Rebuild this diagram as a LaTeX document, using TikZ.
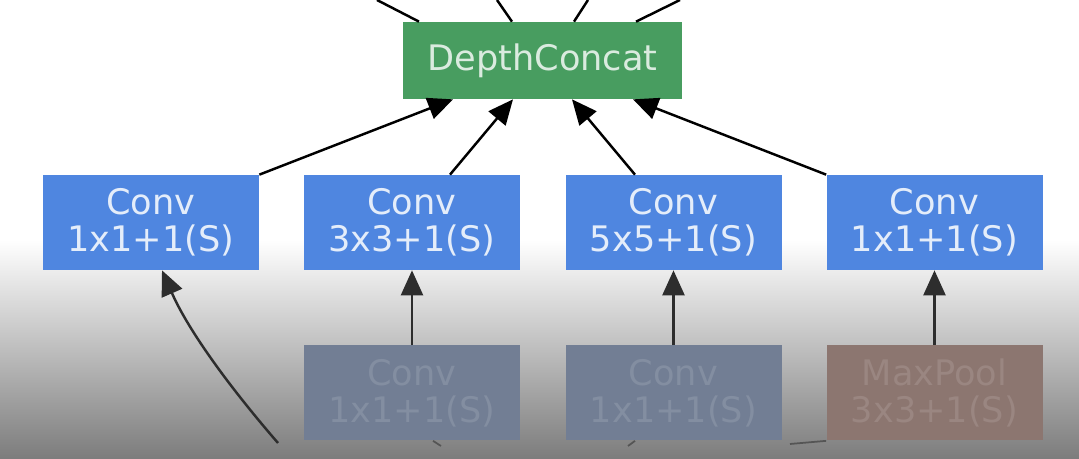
\documentclass[tikz,border=0pt]{standalone}
\usepackage{fontspec}
\setmainfont{DejaVu Sans}
\usetikzlibrary{arrows.meta}
\definecolor{concatgreen}{RGB}{72,157,96}
\definecolor{convblue}{RGB}{79,134,224}
\definecolor{fadeblue}{RGB}{114,126,148}
\definecolor{fadered}{RGB}{140,118,112}
\definecolor{bgmid}{RGB}{146,146,146}
\definecolor{bgbot}{RGB}{124,124,124}
\definecolor{lowgray}{RGB}{45,45,45}
\definecolor{stubgray}{RGB}{85,85,85}
\tikzset{
  layer/.style={shape=rectangle, minimum width=4.32cm, minimum height=1.9cm, inner sep=0pt, align=center, font=\fontsize{20}{21}\selectfont},
  conv/.style={layer, fill=convblue, text=white!85!convblue},
  faded/.style={layer, fill=fadeblue, text=white!12!fadeblue},
  flow/.style={-{Triangle[length=5mm,width=4.4mm]}, line width=1.4pt, draw=black},
}
\begin{document}
\begin{tikzpicture}
\useasboundingbox (0,0) rectangle (21.58,9.18);
\fill[white] (0,4.38) rectangle (21.58,9.18);
\shade[top color=white, middle color=bgmid, bottom color=bgbot] (0,0) rectangle (21.58,4.38);
\node[shape=rectangle, fill=concatgreen, minimum width=5.58cm, minimum height=1.54cm, text=white!80!concatgreen, font=\fontsize{20}{21}\selectfont] (dc) at (10.85,7.97) {DepthConcat};
\node[conv] (c1) at (3.02,4.73) {Conv\\1x1+1(S)};
\node[conv] (c2) at (8.24,4.73) {Conv\\3x3+1(S)};
\node[conv] (c3) at (13.47,4.73) {Conv\\5x5+1(S)};
\node[conv] (c4) at (18.69,4.73) {Conv\\1x1+1(S)};
\node[faded] (f2) at (8.24,1.32) {Conv\\1x1+1(S)};
\node[faded] (f3) at (13.47,1.32) {Conv\\1x1+1(S)};
\node[faded, fill=fadered, text=white!12!fadered] (mp) at (18.69,1.32) {MaxPool\\3x3+1(S)};
\coordinate (t1) at (7.54,9.18);
\coordinate (t2) at (9.94,9.18);
\coordinate (t3) at (11.76,9.18);
\coordinate (t4) at (13.60,9.18);
\coordinate (in1) at (5.56,0.32);
\coordinate (s2) at (8.82,0.26);
\coordinate (s3) at (12.56,0.26);
\coordinate (s4) at (15.80,0.30);
\draw [line width=1.4pt] ([xshift=-2.47cm]dc.north) -- (t1);
\draw [line width=1.4pt] ([xshift=-0.61cm]dc.north) -- (t2);
\draw [line width=1.4pt] ([xshift=0.63cm]dc.north) -- (t3);
\draw [line width=1.4pt] ([xshift=1.87cm]dc.north) -- (t4);
\draw [flow] (c1.north east) -- ([xshift=-1.79cm]dc.south);
\draw [flow] ([xshift=0.76cm]c2.north) -- ([xshift=-0.59cm]dc.south);
\draw [flow] ([xshift=-0.77cm]c3.north) -- ([xshift=0.59cm]dc.south);
\draw [flow] (c4.north west) -- ([xshift=1.81cm]dc.south);
\draw [flow, draw=lowgray] (f2) -- (c2);
\draw [flow, draw=lowgray] (f3) -- (c3);
\draw [flow, draw=lowgray] (mp) -- (c4);
\draw [flow, draw=lowgray] (in1) .. controls (4.64,1.38) and (3.78,2.54) .. ([xshift=0.22cm]c1.south);
\draw [line width=1pt, draw=stubgray] ([xshift=0.42cm]f2.south) -- (s2);
\draw [line width=1pt, draw=stubgray] ([xshift=-0.77cm]f3.south) -- (s3);
\draw [line width=1pt, draw=stubgray] (mp.south west) -- (s4);
\end{tikzpicture}
\end{document}
